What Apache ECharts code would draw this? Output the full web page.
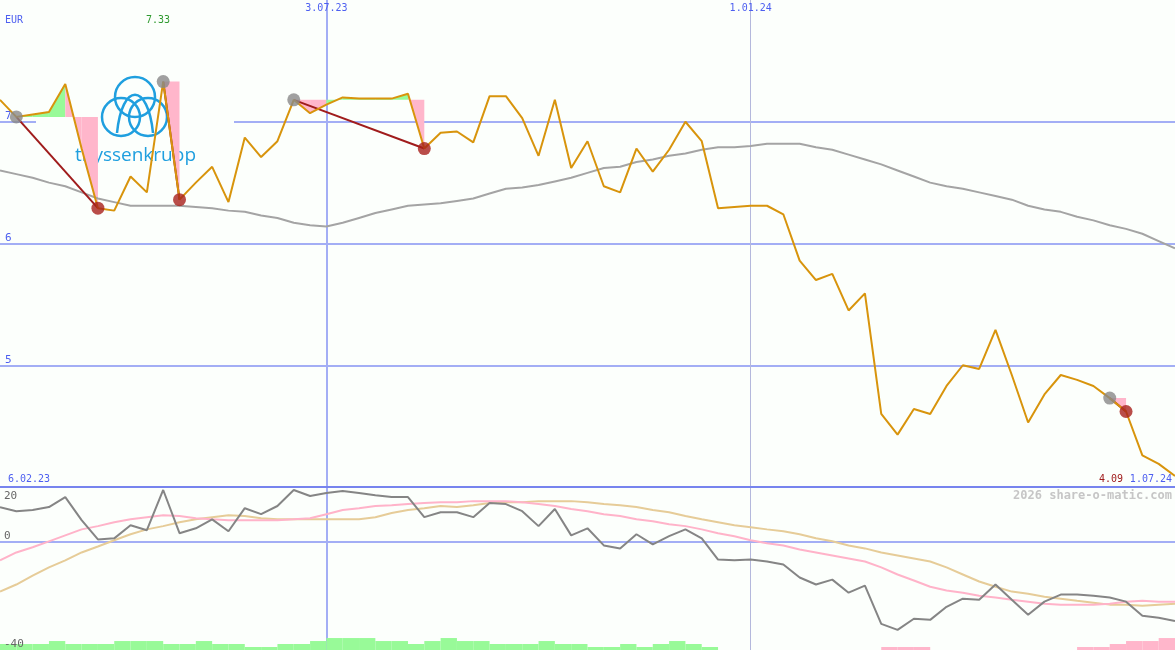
<!DOCTYPE html>
<html>
<head>
<meta charset="utf-8">
<title>thyssenkrupp</title>
<script src="https://cdn.jsdelivr.net/npm/echarts@6/dist/echarts.min.js"></script>
<style>
  html, body { margin: 0; padding: 0; background: #fcfffc; }
  #chart { width: 1175px; height: 650px; }
</style>
</head>
<body>
<div id="chart"></div>
<script>
// weekly closes, 13.02.23 .. 1.07.24
const weeks = [
  "13.02.23", "20.02.23", "27.02.23", "6.03.23", "13.03.23", "20.03.23", "27.03.23", "3.04.23", "10.04.23", "17.04.23",
  "24.04.23", "1.05.23", "8.05.23", "15.05.23", "22.05.23", "29.05.23", "5.06.23", "12.06.23", "19.06.23", "26.06.23",
  "3.07.23", "10.07.23", "17.07.23", "24.07.23", "31.07.23", "7.08.23", "14.08.23", "21.08.23", "28.08.23", "4.09.23",
  "11.09.23", "18.09.23", "25.09.23", "2.10.23", "9.10.23", "16.10.23", "23.10.23", "30.10.23", "6.11.23", "13.11.23",
  "20.11.23", "27.11.23", "4.12.23", "11.12.23", "18.12.23", "25.12.23", "1.01.24", "8.01.24", "15.01.24", "22.01.24",
  "29.01.24", "5.02.24", "12.02.24", "19.02.24", "26.02.24", "4.03.24", "11.03.24", "18.03.24", "25.03.24", "1.04.24",
  "8.04.24", "15.04.24", "22.04.24", "29.04.24", "6.05.24", "13.05.24", "20.05.24", "27.05.24", "3.06.24", "10.06.24",
  "17.06.24", "24.06.24", "1.07.24"
];
const price = [
  7.18, 7.04, 7.06, 7.08, 7.31, 6.78, 6.29, 6.27, 6.55, 6.42,
  7.33, 6.36, 6.50, 6.63, 6.34, 6.87, 6.71, 6.84, 7.18, 7.07,
  7.14, 7.20, 7.19, 7.19, 7.19, 7.23, 6.78, 6.91, 6.92, 6.83,
  7.21, 7.21, 7.03, 6.72, 7.18, 6.62, 6.84, 6.47, 6.42, 6.78,
  6.59, 6.77, 7.00, 6.84, 6.29, 6.30, 6.31, 6.31, 6.24, 5.86,
  5.70, 5.75, 5.45, 5.59, 4.60, 4.43, 4.64, 4.60, 4.83, 5.00,
  4.97, 5.29, 4.92, 4.53, 4.76, 4.92, 4.88, 4.83, 4.73, 4.62,
  4.26, 4.19, 4.09
];
const avg200 = [
  6.60, 6.57, 6.54, 6.50, 6.47, 6.42, 6.37, 6.34, 6.31, 6.31,
  6.31, 6.31, 6.30, 6.29, 6.27, 6.26, 6.23, 6.21, 6.17, 6.15,
  6.14, 6.17, 6.21, 6.25, 6.28, 6.31, 6.32, 6.33, 6.35, 6.37,
  6.41, 6.45, 6.46, 6.48, 6.51, 6.54, 6.58, 6.62, 6.63, 6.67,
  6.69, 6.72, 6.74, 6.77, 6.79, 6.79, 6.80, 6.82, 6.82, 6.82,
  6.79, 6.77, 6.73, 6.69, 6.65, 6.60, 6.55, 6.50, 6.47, 6.45,
  6.42, 6.39, 6.36, 6.31, 6.28, 6.26, 6.22, 6.19, 6.15, 6.12,
  6.08, 6.02, 5.96
];
const momentum = [
  12.6, 11.1, 11.5, 12.6, 16.3, 7.8, 0.7, 1.1, 5.9, 4.1,
  18.9, 3.0, 4.8, 8.1, 3.7, 12.2, 10.0, 13.0, 18.9, 16.7,
  17.8, 18.5, 17.8, 17.0, 16.3, 16.3, 8.9, 10.7, 10.7, 8.9,
  14.1, 13.7, 11.1, 5.6, 11.9, 2.2, 4.8, -1.5, -2.6, 2.6,
  -1.1, 1.9, 4.4, 1.1, -6.7, -7.0, -6.7, -7.4, -8.5, -13.3,
  -15.9, -14.1, -18.9, -16.3, -30.4, -32.6, -28.5, -28.9, -24.1, -21.1,
  -21.5, -15.9, -21.5, -27.0, -22.2, -19.6, -19.6, -20.0, -20.7, -22.2,
  -27.4, -28.1, -29.3
];
const signalPink = [
  -7.0, -4.1, -2.2, 0, 2.2, 4.4, 5.6, 7.0, 8.1, 8.9,
  9.6, 9.3, 8.5, 8.1, 7.8, 7.8, 7.8, 7.8, 8.1, 8.5,
  10.0, 11.5, 12.2, 13.0, 13.3, 13.7, 14.1, 14.4, 14.4, 14.8,
  14.8, 14.8, 14.4, 13.7, 13.0, 11.9, 11.1, 10.0, 9.3, 8.1,
  7.4, 6.3, 5.6, 4.4, 3.0, 1.9, 0.4, -0.7, -1.5, -3.0,
  -4.1, -5.2, -6.3, -7.4, -9.6, -12.2, -14.4, -16.7, -18.1, -18.9,
  -20.0, -20.7, -21.5, -22.2, -23.0, -23.3, -23.3, -23.3, -23.0, -22.2,
  -21.9, -22.2, -22.2
];
const signalTan = [
  -18.5, -15.9, -12.6, -9.6, -7.0, -4.1, -1.9, 0.4, 2.6, 4.4,
  5.6, 7.0, 8.1, 8.9, 9.6, 9.3, 8.5, 8.1, 8.1, 8.1,
  8.1, 8.1, 8.1, 8.9, 10.4, 11.5, 12.2, 13.0, 12.6, 13.3,
  14.1, 14.4, 14.4, 14.8, 14.8, 14.8, 14.4, 13.7, 13.3, 12.6,
  11.5, 10.7, 9.3, 8.1, 7.0, 5.9, 5.2, 4.4, 3.7, 2.6,
  1.1, 0, -1.5, -2.6, -4.1, -5.2, -6.3, -7.4, -9.6, -12.2,
  -14.8, -16.7, -18.5, -19.3, -20.4, -21.1, -21.9, -22.6, -23.3, -23.3,
  -23.7, -23.3, -23.0
];
// one value per week segment, sign = colour
const histogram = [
  2.2, 2.2, 2.2, 3.3, 2.2, 2.2, 2.2, 3.3, 3.3, 3.3,
  2.2, 2.2, 3.3, 2.2, 2.2, 1.1, 1.1, 2.2, 2.2, 3.3,
  4.4, 4.4, 4.4, 3.3, 3.3, 2.2, 3.3, 4.4, 3.3, 3.3,
  2.2, 2.2, 2.2, 3.3, 2.2, 2.2, 1.1, 1.1, 2.2, 1.1,
  2.2, 3.3, 2.2, 1.1, 0, 0, 0, 0, 0, 0,
  0, 0, 0, 0, -1.1, -1.1, -1.1, 0, 0, 0,
  0, 0, 0, 0, 0, 0, -1.1, -1.1, -2.2, -3.3,
  -3.3, -4.4
];
const buyAt = [1, 10, 18, 68];
const sellAt = [6, 11, 26, 69];
const priceTicks = [5, 6, 7];
const oscTicks = [20, 0, -40];
const markDates = ["3.07.23", "1.01.24"];
const startLabel = "6.02.23";

const chart = echarts.init(document.getElementById("chart"));
const bg = "#fcfffc";
const mono = "DejaVu Sans Mono";
const blue = "#4d5ff0";
const gridBlue = "#a3aef5";
const janColor = "#b4b8dc";
const none = "rgba(0,0,0,0)";
const logoBlue = "#1f9fdf";
const julyIdx = weeks.indexOf(markDates[0]);
const janIdx = weeks.indexOf(markDates[1]);

function catAxis(gridIndex, opts) {
  return Object.assign({
    type: "category",
    data: weeks,
    gridIndex: gridIndex,
    boundaryGap: false,
    axisLine: { show: false },
    axisTick: { show: false },
    axisLabel: { show: false },
    splitLine: { show: false },
  }, opts);
}

const option = {
  backgroundColor: bg,
  animation: false,
  grid: [
    { left: 0, right: 0, top: 0, height: 487 },
    { left: 0, right: 0, top: 487, bottom: 0 },
  ],
  xAxis: [
    catAxis(0, {
      position: "top",
      axisLabel: {
        show: true,
        inside: true,
        interval: (i) => i === julyIdx || i === janIdx,
        color: blue,
        fontFamily: mono,
        fontSize: 10,
        margin: 3,
      },
      splitLine: { show: true, interval: (i) => i === julyIdx, lineStyle: { color: gridBlue, width: 2 } },
    }),
    catAxis(0, {
      position: "bottom",
      axisLine: { show: true, lineStyle: { color: "#7784ee", width: 2 } },
      splitLine: { show: true, interval: (i) => i === janIdx, lineStyle: { color: janColor, width: 1 } },
    }),
    catAxis(1, {
      splitLine: { show: true, interval: (i) => i === julyIdx, lineStyle: { color: gridBlue, width: 2 } },
    }),
    catAxis(1, {
      splitLine: { show: true, interval: (i) => i === janIdx, lineStyle: { color: janColor, width: 1 } },
    }),
  ],
  yAxis: [
    {
      type: "value",
      gridIndex: 0,
      min: 4,
      max: 8,
      interval: 1,
      axisLine: { show: false },
      axisTick: { show: false },
      axisLabel: {
        inside: true,
        formatter: (v) => (priceTicks.includes(v) ? String(v) : ""),
        color: blue,
        fontFamily: mono,
        fontSize: 11,
        verticalAlign: "bottom",
        margin: 5,
      },
      splitLine: { lineStyle: { color: [none, gridBlue, gridBlue, gridBlue, none], width: 2 } },
    },
    {
      type: "value",
      gridIndex: 1,
      min: -40,
      max: 20,
      interval: 20,
      z: 3,
      axisLine: { show: false },
      axisTick: { show: false },
      axisLabel: {
        inside: true,
        formatter: (v) => (oscTicks.includes(v) ? String(v) : ""),
        color: "#666",
        fontFamily: mono,
        fontSize: 11,
        verticalAlign: "bottom",
        verticalAlignMaxLabel: "top",
        padding: [4, 0, 0, 0],
        margin: 4,
      },
      splitLine: { lineStyle: { color: [none, none, gridBlue, none], width: 2 } },
    },
  ],
  graphic: [
    // logo
    { type: "rect", z: 1, shape: { x: 36, y: 68, width: 198, height: 104 }, style: { fill: bg } },
    { type: "circle", z: 1, shape: { cx: 135, cy: 97, r: 20 }, style: { fill: "none", stroke: logoBlue, lineWidth: 2.5 } },
    { type: "circle", z: 1, shape: { cx: 121, cy: 117, r: 19 }, style: { fill: "none", stroke: logoBlue, lineWidth: 2.5 } },
    { type: "circle", z: 1, shape: { cx: 148, cy: 117, r: 19 }, style: { fill: "none", stroke: logoBlue, lineWidth: 2.5 } },
    { type: "bezierCurve", z: 1, shape: { x1: 117, y1: 133, cpx1: 122, cpy1: 82, cpx2: 148, cpy2: 82, x2: 153, y2: 133 }, style: { fill: "none", stroke: logoBlue, lineWidth: 2.5 } },
    { type: "text", z: 1, x: 75, y: 156, style: { text: "thyssenkrupp", fill: logoBlue, font: '19px "Open Sans"', verticalAlign: "middle" } },
    // labels
    { type: "text", z: 10, x: 5, y: 20, style: { text: "EUR", fill: blue, font: "10px " + mono, verticalAlign: "middle" } },
    { type: "text", z: 10, x: 158, y: 20, style: { text: Math.max(...price).toFixed(2), fill: "#2f9a2f", font: "10px " + mono, align: "center", verticalAlign: "middle" } },
    { type: "text", z: 10, x: 8, y: 479, style: { text: startLabel, fill: blue, font: "10px " + mono, verticalAlign: "middle" } },
    { type: "text", z: 10, x: 1172, y: 479, style: { text: weeks[weeks.length - 1], fill: blue, font: "10px " + mono, align: "right", verticalAlign: "middle" } },
    { type: "text", z: 10, x: 1123, y: 479, style: { text: price[price.length - 1].toFixed(2), fill: "#a01c1c", font: "10px " + mono, align: "right", verticalAlign: "middle" } },
    { type: "text", z: 10, x: 1172, y: 496, style: { text: "2026 share-o-matic.com", fill: "#c6c6c6", font: "bold 12px " + mono, align: "right", verticalAlign: "middle" } },
  ],
  series: [
    {
      name: "trade fill",
      type: "custom",
      xAxisIndex: 0,
      yAxisIndex: 0,
      z: 2,
      data: buyAt.map((b, k) => [b, sellAt[k]]),
      renderItem: (params, api) => {
        const from = api.value(0);
        const to = api.value(1);
        const ref = price[from];
        const children = [];
        for (let i = from; i < to; i++) {
          children.push({
            type: "polygon",
            shape: { points: [api.coord([i, ref]), api.coord([i, price[i]]), api.coord([i + 1, price[i + 1]]), api.coord([i + 1, ref])] },
            style: { fill: price[i + 1] > ref ? "#98fa98" : "#ffb6cb" },
          });
        }
        return { type: "group", children: children };
      },
    },
    {
      name: "200 Tage",
      type: "line",
      xAxisIndex: 0,
      yAxisIndex: 0,
      z: 2,
      data: avg200,
      symbol: "none",
      lineStyle: { color: "#a4a4a4", width: 2 },
    },
    {
      name: "trade",
      type: "custom",
      xAxisIndex: 0,
      yAxisIndex: 0,
      z: 3,
      data: buyAt.map((b, k) => [b, sellAt[k]]),
      renderItem: (params, api) => {
        const a = api.coord([api.value(0), price[api.value(0)]]);
        const b = api.coord([api.value(1), price[api.value(1)]]);
        return {
          type: "line",
          shape: { x1: a[0], y1: a[1], x2: b[0], y2: b[1] },
          style: { stroke: "#a01c1c", lineWidth: 2 },
        };
      },
    },
    {
      name: "Kurs",
      type: "line",
      xAxisIndex: 0,
      yAxisIndex: 0,
      z: 4,
      data: price,
      symbol: "none",
      lineStyle: { color: "#d8940c", width: 2 },
    },
    {
      name: "Kauf",
      type: "scatter",
      xAxisIndex: 0,
      yAxisIndex: 0,
      z: 5,
      data: buyAt.map((i) => [i, price[i]]),
      symbolSize: 13,
      itemStyle: { color: "#888888" },
    },
    {
      name: "Verkauf",
      type: "scatter",
      xAxisIndex: 0,
      yAxisIndex: 0,
      z: 5,
      data: sellAt.map((i) => [i, price[i]]),
      symbolSize: 13,
      itemStyle: { color: "#a8201c" },
    },
    {
      name: "Signal 1",
      type: "line",
      xAxisIndex: 2,
      yAxisIndex: 1,
      z: 4,
      data: signalTan,
      symbol: "none",
      lineStyle: { color: "#e6cc98", width: 2 },
    },
    {
      name: "Signal 2",
      type: "line",
      xAxisIndex: 2,
      yAxisIndex: 1,
      z: 4,
      data: signalPink,
      symbol: "none",
      lineStyle: { color: "#ffb3c9", width: 2 },
    },
    {
      name: "Momentum",
      type: "line",
      xAxisIndex: 2,
      yAxisIndex: 1,
      z: 4,
      data: momentum,
      symbol: "none",
      lineStyle: { color: "#858585", width: 2 },
    },
    {
      name: "Histogramm",
      type: "custom",
      xAxisIndex: 2,
      yAxisIndex: 1,
      z: 2,
      data: histogram.map((v, i) => [i, v]),
      renderItem: (params, api) => {
        const i = api.value(0);
        const v = api.value(1);
        if (!v) return null;
        const top = api.coord([i, -40 + Math.abs(v)]);
        const bottom = api.coord([i + 1, -40]);
        return {
          type: "rect",
          shape: { x: top[0], y: top[1], width: bottom[0] - top[0], height: bottom[1] - top[1] },
          style: { fill: v > 0 ? "#98fa98" : "#ffb6cb" },
        };
      },
    },
  ],
};

chart.setOption(option);
</script>
</body>
</html>
